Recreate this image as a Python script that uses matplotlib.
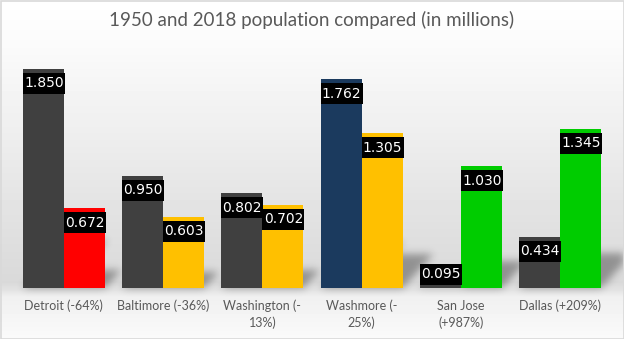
import numpy as np
import matplotlib
matplotlib.use("Agg")
import matplotlib.pyplot as plt
from matplotlib.patches import Rectangle
from matplotlib.path import Path

cities = ["Detroit (-64%)", "Baltimore (-36%)", "Washington (-\n13%)",
          "Washmore (-\n25%)", "San Jose\n(+987%)", "Dallas (+209%)"]
pop_1950 = [1.850, 0.950, 0.802, 1.762, 0.095, 0.434]
pop_2018 = [0.672, 0.603, 0.702, 1.305, 1.030, 1.345]
colors_1950 = ["#404040", "#404040", "#404040", "#1b3a5e", "#404040", "#404040"]
colors_2018 = ["#ff0000", "#ffc000", "#ffc000", "#ffc000", "#00cc00", "#00cc00"]

W, H = 624, 339
fig = plt.figure(figsize=(W / 100, H / 100), dpi=100)

# background gradient + border
bg = fig.add_axes([0, 0, 1, 1])
bg.set_xlim(0, W)
bg.set_ylim(0, H)
bg.axis("off")
rows = np.arange(H)
shade = np.interp(rows, [0, 40, 120, 200, 282, 289, 296, 339],
                  [255, 251, 240, 228, 217, 226, 240, 250])
grad = np.repeat(shade[:, None], W, axis=1)
bg.imshow(grad, extent=[0, W, 0, H], origin="upper", aspect="auto",
          cmap="gray", vmin=0, vmax=255, zorder=0)
bg.add_patch(Rectangle((0.5, 0.5), W - 1, H - 1, fill=False,
                       edgecolor="#d9d9d9", lw=1.2, zorder=5))

# main axes
ax = fig.add_axes([14.25 / W, 51 / H, 595.5 / W, 236.8 / H])
ax.set_xlim(-0.5, 5.5)
ax.set_ylim(0, 2.0)
ax.patch.set_alpha(0)
for s in ax.spines.values():
    s.set_visible(False)
ax.set_yticks([])

bw = 41 / 99.25
x = np.arange(len(cities))
b1 = ax.bar(x - bw, pop_1950, width=bw, align="edge", color=colors_1950, zorder=3)
b2 = ax.bar(x, pop_2018, width=bw, align="edge", color=colors_2018, zorder=3)

# soft perspective shadows behind the bars
xx, yy = np.meshgrid(np.arange(W) + 0.5, np.arange(H) + 0.5)
pts = np.column_stack([xx.ravel(), yy.ravel()])
mask = np.zeros(W * H)
for bar in list(b1) + list(b2):
    (x0, yb), (x1, yt) = ax.transData.transform(
        [(bar.get_x(), 0), (bar.get_x() + bar.get_width(), bar.get_height())])
    h = yt - yb
    poly = Path([(x0, yb), (x1, yb), (x1 + 0.2 * h, yb + 0.22 * h),
                 (x0 + 0.2 * h, yb + 0.22 * h)])
    mask = np.maximum(mask, poly.contains_points(pts))
mask = mask.reshape(H, W)
k = np.arange(-12, 13)
kern = np.exp(-k ** 2 / (2 * 4.0 ** 2))
kern /= kern.sum()
mask = np.apply_along_axis(lambda r: np.convolve(r, kern, mode="same"), 1, mask)
mask = np.apply_along_axis(lambda c: np.convolve(c, kern, mode="same"), 0, mask)
shadow = np.zeros((H, W, 4))
shadow[..., 3] = mask * 0.34
bg.imshow(shadow, extent=[0, W, 0, H], origin="lower", aspect="auto", zorder=1)

# value labels
px = 2.0 / 236.8
for bars, vals in [(b1, pop_1950), (b2, pop_2018)]:
    for bar, v in zip(bars, vals):
        top = v - 4 * px
        bottom = top - 21 * px
        if bottom < 3 * px:
            bottom = 3 * px
        ax.add_patch(Rectangle((bar.get_x(), bottom), bar.get_width() + 0.01,
                               21 * px, facecolor="black", edgecolor="none", zorder=4))
        ax.text(bar.get_x() + bar.get_width() / 2 + 0.005, bottom + 10.5 * px,
                "%.3f" % v, ha="center", va="center", color="white",
                fontsize=10, zorder=5)

ax.set_xticks(x)
ax.set_xticklabels(cities, fontsize=9, color="#595959", family="Lato",
                   linespacing=1.4)
ax.tick_params(axis="x", length=0, pad=8.5)

fig.text(0.5, 1 - 20 / H, "1950 and 2018 population compared (in millions)",
         ha="center", va="center", fontsize=13.5, color="#595959", family="Lato")

fig.savefig("out.png", dpi=100)
